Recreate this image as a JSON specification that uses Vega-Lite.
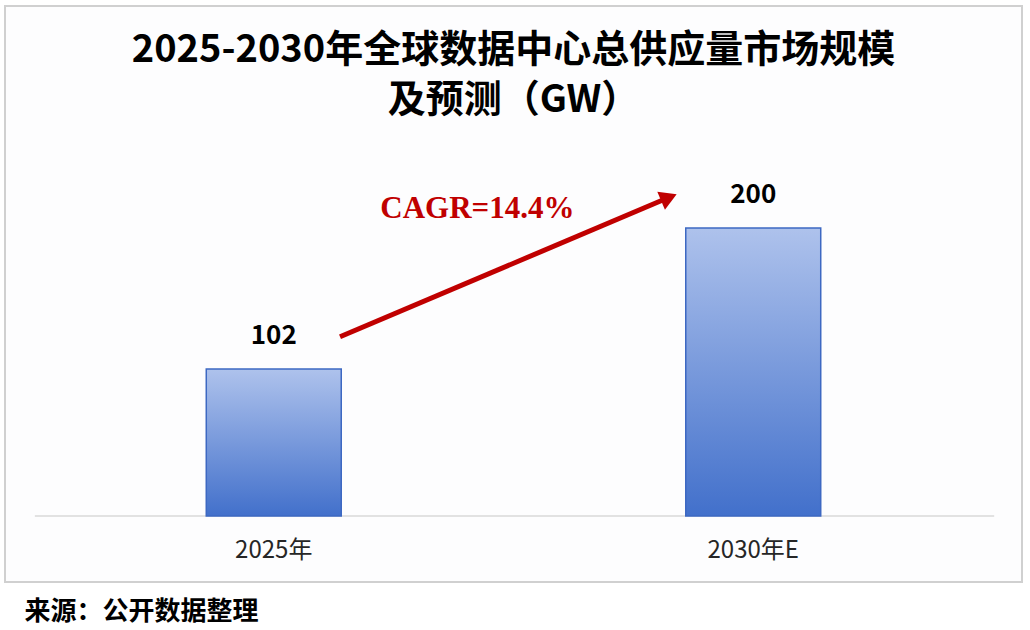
{
  "$schema": "https://vega.github.io/schema/vega-lite/v6.json",
  "width": 1017,
  "height": 576,
  "autosize": {"type": "none"},
  "padding": {"left": 5, "top": 6, "right": 8, "bottom": 48},
  "background": "#ffffff",
  "config": {
    "view": {"stroke": "#d0d0d0", "strokeWidth": 2, "fill": "#fdfdfe"},
    "font": "Noto Sans CJK SC"
  },
  "title": {
    "text": ["2025-2030年全球数据中心总供应量市场规模", "及预测（GW）"],
    "font": "Noto Sans CJK SC",
    "fontSize": 38,
    "fontWeight": "bold",
    "color": "#000000",
    "lineHeight": 50,
    "anchor": "middle",
    "frame": "group",
    "baseline": "bottom",
    "offset": -152
  },
  "datasets": {
    "bars": [
      {"year": "2025年", "value": 102},
      {"year": "2030年E", "value": 200}
    ],
    "base": [{"year": "2025年", "year2": "2030年E", "v": 0}],
    "arrow": [{"year": "2025年", "year2": "2030年E", "y1": 124.5, "y2": 220.8}],
    "head": [{"year": "2030年E", "v": 221.2}],
    "cagr": [{"year": "2030年E", "v": 213.2, "label": "CAGR=14.4%"}]
  },
  "layer": [
    {
      "data": {"name": "base"},
      "mark": {"type": "rule", "stroke": "#d9d9d9", "strokeWidth": 1.5},
      "encoding": {
        "x": {"field": "year", "type": "nominal", "bandPosition": -1.27,
              "scale": {"type": "band", "domain": ["2025年", "2030年E"], "paddingInner": 0.7185, "paddingOuter": 0.41975},
              "title": "来源：公开数据整理",
              "axis": {
                "offset": -66, "domain": false, "ticks": false, "tickSize": 0, "grid": false,
                "labelAngle": 0, "labelFont": "Noto Sans CJK SC", "labelFontSize": 24, "labelColor": "#262626",
                "labelPadding": 22, "labelBaseline": "top",
                "titleFont": "Noto Sans CJK SC", "titleFontSize": 26, "titleFontWeight": "bold", "titleColor": "#000000",
                "titleAlign": "left", "titleAnchor": "start", "titleX": 19, "titleY": 95, "titleBaseline": "middle"
              }},
        "x2": {"field": "year2", "bandPosition": 2.285},
        "y": {"field": "v", "type": "quantitative", "scale": {"domain": [-45.83, 354.17], "nice": false, "zero": false}, "axis": null}
      }
    },
    {
      "data": {"name": "bars"},
      "mark": {
        "type": "bar",
        "stroke": "#3d68c2",
        "strokeWidth": 1.5,
        "color": {
          "gradient": "linear", "x1": 0, "y1": 0, "x2": 0, "y2": 1,
          "stops": [{"offset": 0, "color": "#aec2ec"}, {"offset": 1, "color": "#4270cb"}]
        }
      },
      "encoding": {
        "x": {"field": "year", "type": "nominal", "title": "来源：公开数据整理"},
        "y": {"field": "value", "type": "quantitative"},
        "y2": {"datum": 0}
      }
    },
    {
      "data": {"name": "bars"},
      "mark": {"type": "text", "font": "Noto Sans CJK SC", "fontSize": 26, "fontWeight": "bold", "color": "#000000", "baseline": "middle", "dy": -33},
      "encoding": {
        "x": {"field": "year", "type": "nominal", "title": "来源：公开数据整理"},
        "y": {"field": "value", "type": "quantitative"},
        "text": {"field": "value", "type": "quantitative"}
      }
    },
    {
      "data": {"name": "arrow"},
      "mark": {"type": "rule", "stroke": "#c00000", "strokeWidth": 5},
      "encoding": {
        "x": {"field": "year", "type": "nominal", "bandPosition": 0.991, "title": "来源：公开数据整理"},
        "x2": {"field": "year2", "bandPosition": -0.135},
        "y": {"field": "y1", "type": "quantitative"},
        "y2": {"field": "y2"}
      }
    },
    {
      "data": {"name": "head"},
      "mark": {"type": "point", "shape": "triangle-right", "filled": true, "size": 380, "color": "#c00000", "opacity": 1, "angle": 337},
      "encoding": {
        "x": {"field": "year", "type": "nominal", "bandPosition": -0.125, "title": "来源：公开数据整理"},
        "y": {"field": "v", "type": "quantitative"}
      }
    },
    {
      "data": {"name": "cagr"},
      "mark": {"type": "text", "font": "Liberation Serif", "fontSize": 31, "fontWeight": "bold", "color": "#c00000", "baseline": "middle", "align": "center"},
      "encoding": {
        "x": {"field": "year", "type": "nominal", "bandPosition": -1.544, "title": "来源：公开数据整理"},
        "y": {"field": "v", "type": "quantitative"},
        "text": {"field": "label"}
      }
    }
  ]
}
